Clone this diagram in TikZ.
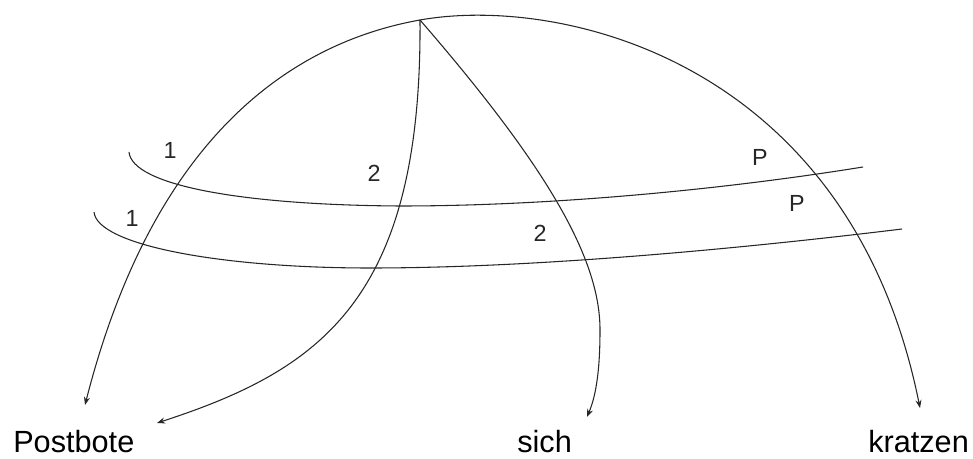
\documentclass[tikz,border=0pt]{standalone}
\usepackage{fontspec}
\setmainfont{Liberation Sans}
\usetikzlibrary{arrows.meta, positioning}

\begin{document}
\begin{tikzpicture}[x=0.75pt, y=-0.75pt,
  curve/.style={draw=black!85, line width=0.8pt},
  tipped/.style={curve, -{Stealth[length=6pt, width=4.5pt]}},
  word/.style={font=\fontsize{23}{26}\selectfont, anchor=base west, inner sep=0pt},
  slotlabel/.style={font=\fontsize{17.5}{20}\selectfont, text=black!85, inner sep=0pt}]
\useasboundingbox (0,0) rectangle (973,459);
% words
\node[word] (postbote) at (13,452) {Postbote};
\node[word] (sich) at (517,452) {sich};
\node[word] (kratzen) at (868,452) {kratzen};
% apex and arrow ends
\coordinate (top) at (420,20);
\coordinate (pbmain) at (85,405);
\coordinate (pbtwo) at (157,423);
\coordinate (sichend) at (587,417);
\coordinate (kratzenend) at (920,408);
% big arc
\draw[tipped] (top) .. controls (280,45) and (150,150) .. (pbmain);
\draw[tipped] (top) .. controls (560,-5) and (850,60) .. (kratzenend);
% inner arcs
\draw[tipped] (top) .. controls (422,300) and (320,370) .. (pbtwo);
\draw[tipped] (top) .. controls (550,170) and (600,260) .. (600,330)
  .. controls (600,375) and (595,398) .. (sichend);
% cross lines
\draw[curve] (129,152) .. controls (132,185) and (240,205) .. (400,206)
  .. controls (550,206) and (720,190) .. (863,167);
\draw[curve] (94,212) .. controls (97,245) and (220,268) .. (370,268)
  .. controls (530,268) and (730,250) .. (902,229);
% slot labels
\node[slotlabel] (onea) at (170,150) {1};
\node[slotlabel] (twoa) at (374,173) {2};
\node[slotlabel] (pa) at (760,157) {P};
\node[slotlabel] (oneb) at (132,218) {1};
\node[slotlabel] (twob) at (540,233) {2};
\node[slotlabel] (pb) at (797,203) {P};
\end{tikzpicture}
\end{document}
